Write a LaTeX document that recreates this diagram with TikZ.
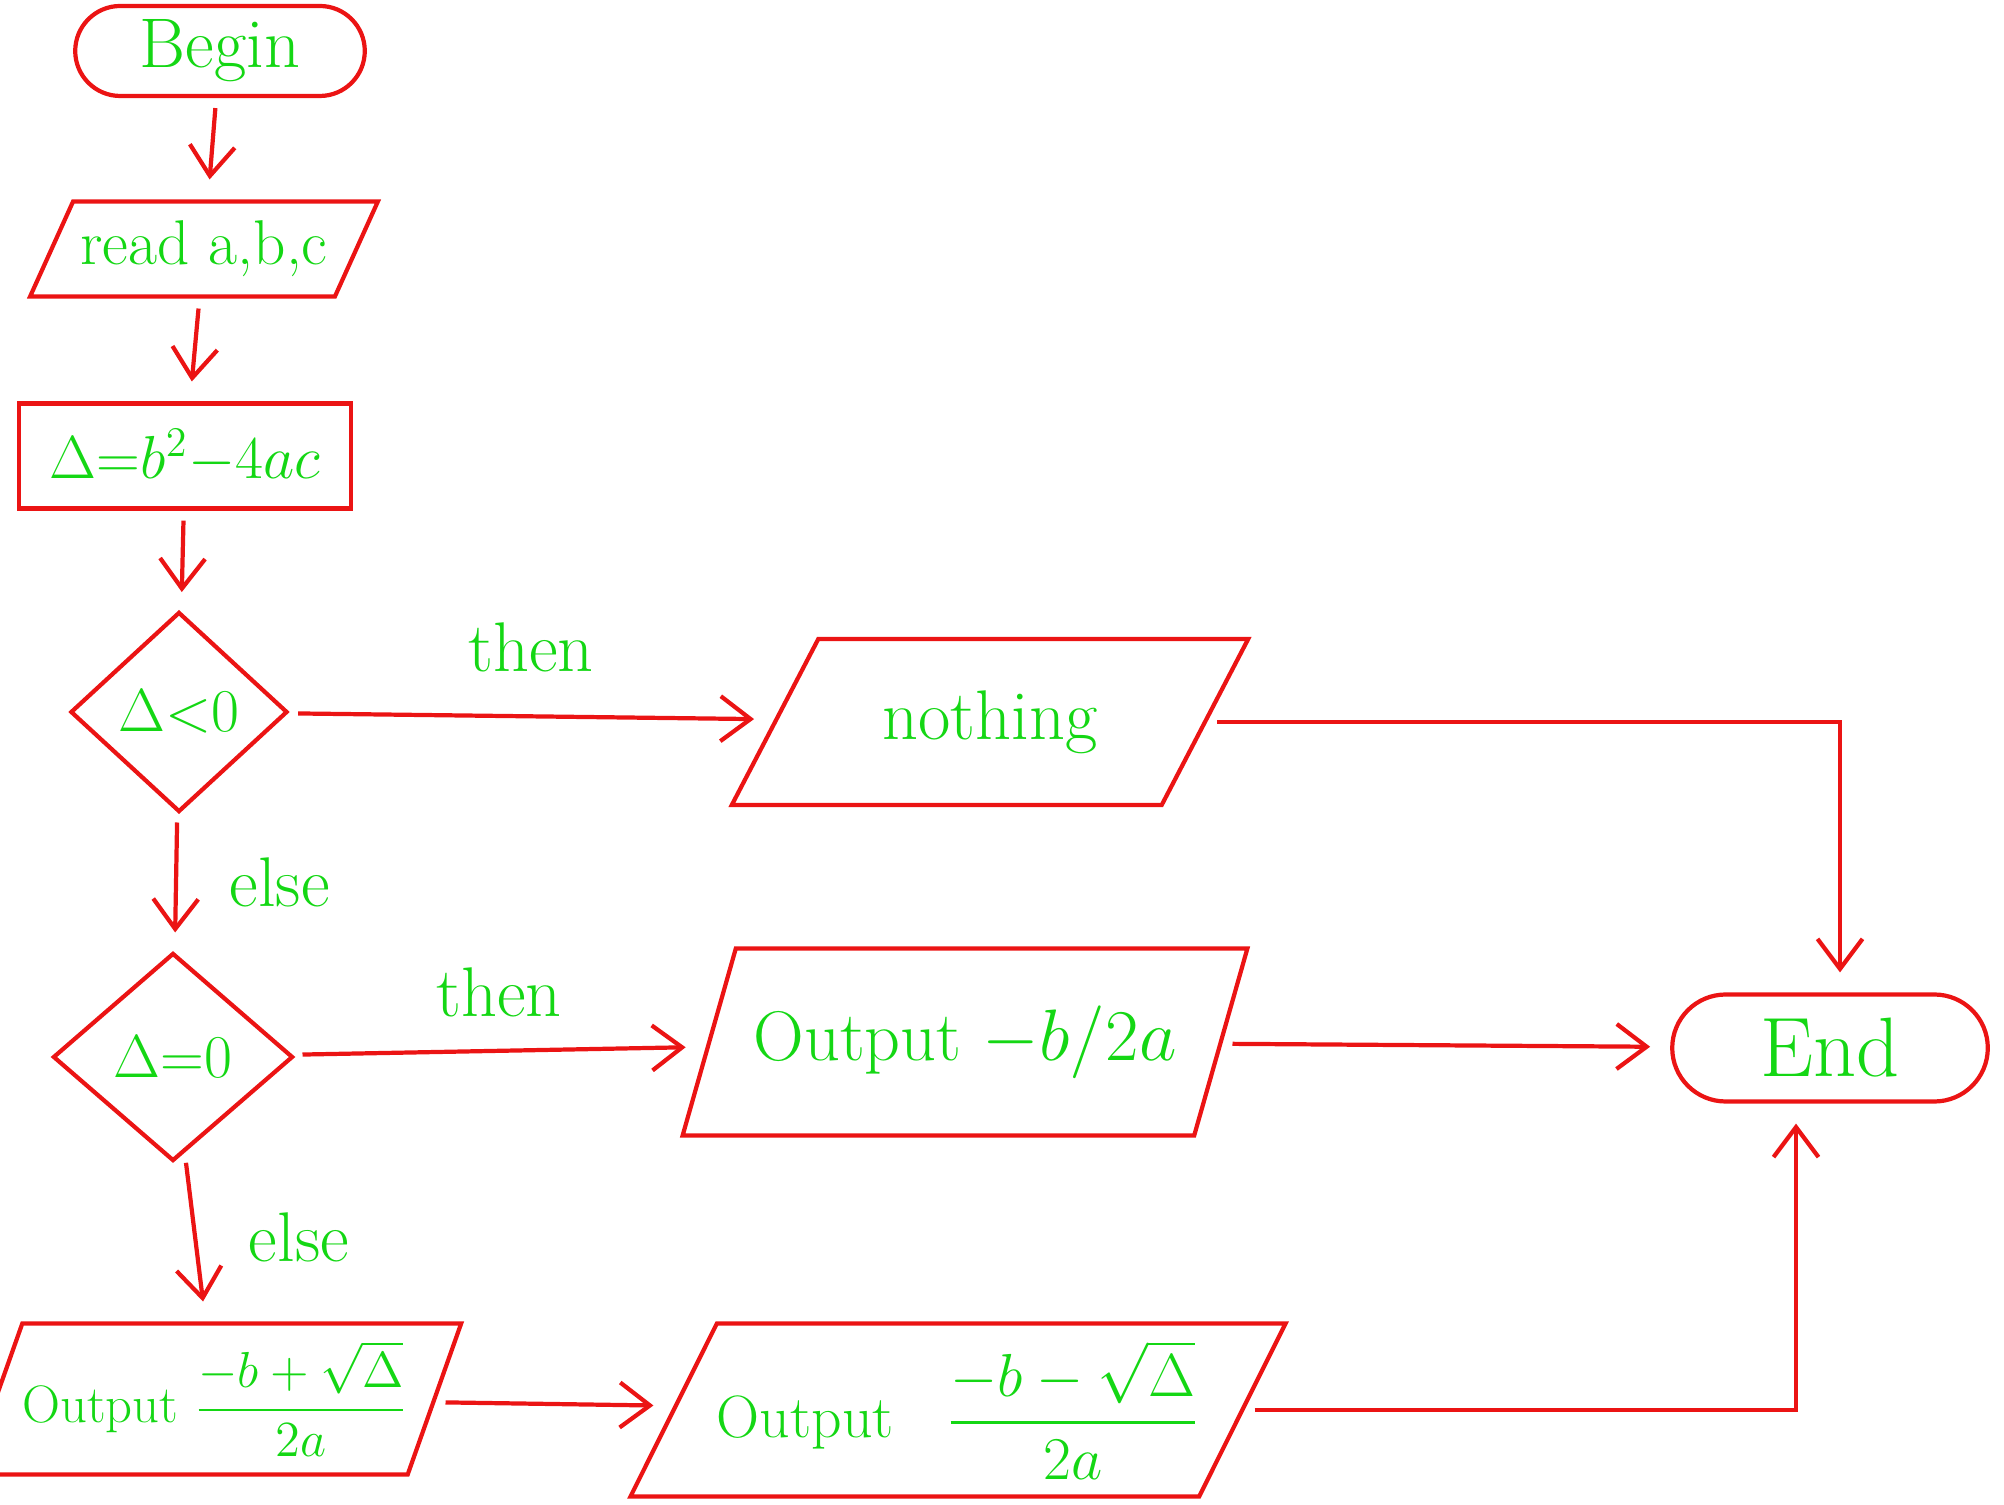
\documentclass[tikz,border=0pt]{standalone}
\usepackage{amsmath}
\usepackage{tikz}
\usetikzlibrary{arrows.meta, positioning, shapes.geometric, shapes.misc}

\definecolor{penred}{RGB}{235,20,20}
\definecolor{pengreen}{RGB}{20,215,20}

\begin{document}
\begin{tikzpicture}[>={Straight Barb[length=3mm, width=4.5mm]}, font=\fontsize{20}{24}\selectfont,
  term/.style={draw=penred, line width=1.2pt, rounded rectangle, text=pengreen},
  io/.style={draw=penred, line width=1.2pt, trapezium, trapezium left angle=63, trapezium right angle=117, trapezium stretches=true, text=pengreen, inner xsep=0pt},
  proc/.style={draw=penred, line width=1.2pt, rectangle, text=pengreen},
  dec/.style={draw=penred, line width=1.2pt, diamond, text=pengreen, inner sep=0pt},
  lbl/.style={text=pengreen},
  flow/.style={->, draw=penred, line width=1.2pt, shorten <=1mm, shorten >=2mm}]
  \useasboundingbox (0,0) rectangle (20.04,15.04);

  % left column
  \node[term, minimum width=3.13cm, minimum height=0.9cm] (begin) at (2.20, 14.53) {Begin};
  \node[io, minimum width=3.48cm, minimum height=0.95cm, font=\fontsize{18}{22}\selectfont] (read) at (2.04, 12.55) {read a,b,c};
  \node[proc, minimum width=3.32cm, minimum height=1.05cm, font=\fontsize{17}{20}\selectfont] (delta) at (1.85, 10.48) {$\Delta{=}b^2{-}4ac$};
  \node[dec, minimum width=2.17cm, minimum height=2.0cm, font=\fontsize{17}{20}\selectfont] (neg) at (1.79, 7.92) {$\Delta{<}0$};
  \node[dec, minimum width=2.4cm, minimum height=2.08cm, font=\fontsize{17}{20}\selectfont] (zero) at (1.73, 4.47) {$\Delta{=}0$};
  \node[io, trapezium left angle=69, trapezium right angle=111, minimum width=4.15cm, minimum height=1.51cm, font=\fontsize{15}{18}\selectfont] (rootp) at (2.15, 1.05) {Output $\dfrac{-b+\sqrt{\Delta}}{2a}$};

  % middle and right
  \node[io, trapezium left angle=58, trapezium right angle=122, minimum width=5.21cm, minimum height=1.66cm] (nothing) at (9.90, 7.82) {nothing};
  \node[io, minimum width=5.66cm, minimum height=1.87cm] (single) at (9.65, 4.62) {Output $-b/2a$};
  \node[io, trapezium left angle=62, trapezium right angle=118, minimum width=6.0cm, minimum height=1.73cm, font=\fontsize{17}{20}\selectfont] (rootm) at (9.58, 0.94) {Output \; $\dfrac{-b-\sqrt{\Delta}}{2a}$};
  \node[term, minimum width=3.39cm, minimum height=1.07cm, font=\fontsize{24}{28}\selectfont] (end) at (18.30, 4.56) {End};

  \draw[flow] (begin) -- (read);
  \draw[flow] (read) -- (delta);
  \draw[flow] (delta) -- (neg);
  \draw[flow] (neg) -- node[lbl, above=3mm] {then} (nothing);
  \draw[flow] (neg) -- node[lbl, right=4mm] {else} (zero);
  \draw[flow] (zero) -- node[lbl, above=2mm] {then} (single);
  \draw[flow] (zero) -- node[lbl, right=4mm] {else} (rootp);
  \draw[flow] (rootp) -- (rootm);
  \draw[flow] (nothing) -| ([xshift=1mm]end.north);
  \draw[flow] (single) -- (end);
  \draw[flow] (rootm) -| ([xshift=-3.4mm]end.south);
\end{tikzpicture}
\end{document}
